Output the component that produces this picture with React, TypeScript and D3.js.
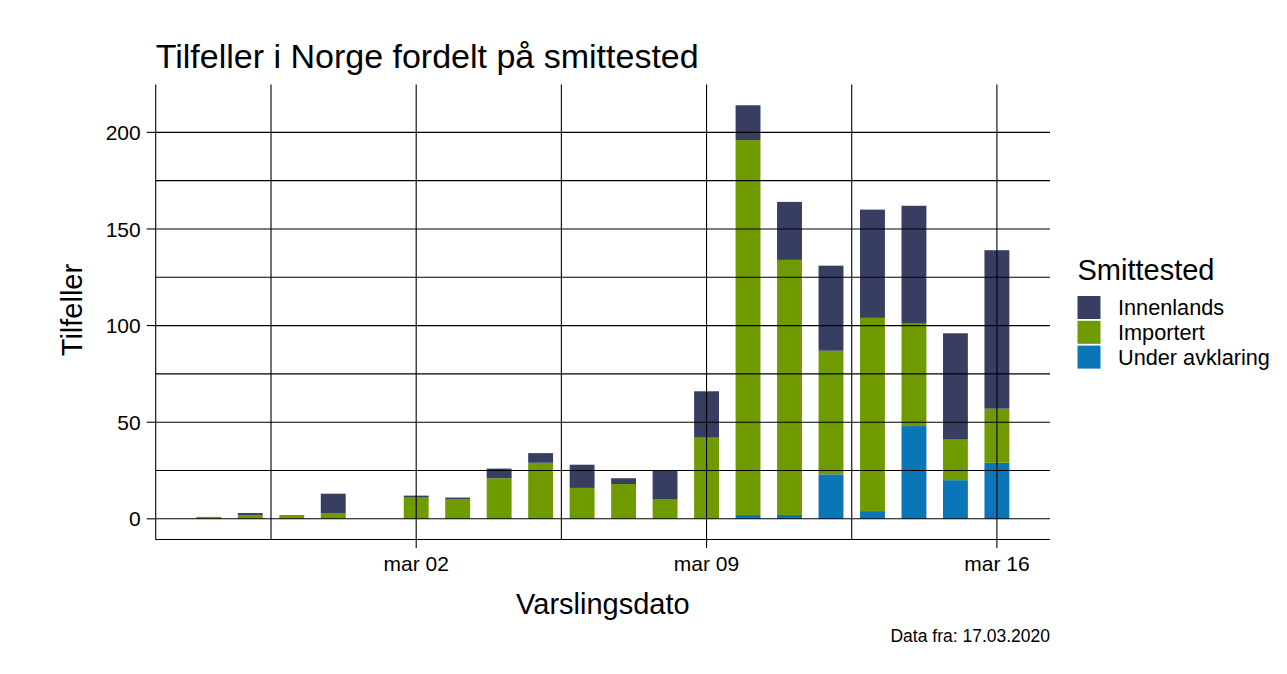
import * as d3 from "d3";

const dates = [
  "2020-02-26", "2020-02-27", "2020-02-28", "2020-02-29", "2020-03-02",
  "2020-03-03", "2020-03-04", "2020-03-05", "2020-03-06", "2020-03-07",
  "2020-03-08", "2020-03-09", "2020-03-10", "2020-03-11", "2020-03-12",
  "2020-03-13", "2020-03-14", "2020-03-15", "2020-03-16",
];
const innenlands = [0, 1, 0, 10, 1, 1, 5, 5, 12, 3, 15, 24, 18, 30, 44, 56, 61, 55, 82];
const importert = [1, 2, 2, 3, 11, 10, 21, 29, 16, 18, 10, 42, 194, 132, 64, 100, 53, 21, 28];
const underAvklaring = [0, 0, 0, 0, 0, 0, 0, 0, 0, 0, 0, 0, 2, 2, 23, 4, 48, 20, 29];

const seriesNames = ["Innenlands", "Importert", "Under avklaring"];
const seriesColors = ["#383d62", "#6f9a00", "#0a76b7"];
const yTicks = [0, 50, 100, 150, 200];
const xTickDates = ["2020-03-02", "2020-03-09", "2020-03-16"];

const W = 1287;
const H = 674;
const FONT = "'Liberation Sans', Arial, sans-serif";
const panel = { left: 155.7, right: 1050, top: 84.6, bottom: 539.5 };
const DAY = 864e5;

const nb = d3.timeFormatLocale({
  dateTime: "%A %e. %B %Y kl. %X",
  date: "%d.%m.%Y",
  time: "%H:%M:%S",
  periods: ["AM", "PM"],
  days: ["søndag", "mandag", "tirsdag", "onsdag", "torsdag", "fredag", "lørdag"],
  shortDays: ["søn", "man", "tir", "ons", "tor", "fre", "lør"],
  months: ["januar", "februar", "mars", "april", "mai", "juni", "juli", "august", "september", "oktober", "november", "desember"],
  shortMonths: ["jan", "feb", "mar", "apr", "mai", "jun", "jul", "aug", "sep", "okt", "nov", "des"],
});
const fmt = nb.format("%b %d");
const parse = d3.utcParse("%Y-%m-%d");

export default function App() {
  const rows = dates.map((d, i) => ({
    date: parse(d) as Date,
    "Under avklaring": underAvklaring[i],
    Importert: importert[i],
    Innenlands: innenlands[i],
  }));

  // stacked bottom-up: Under avklaring, Importert, Innenlands
  const stack = d3
    .stack<any>()
    .keys(["Under avklaring", "Importert", "Innenlands"]);
  const stacked = stack(rows);

  const halfBar = 0.3 * DAY;
  const t0 = +rows[0].date - halfBar;
  const t1 = +rows[rows.length - 1].date + halfBar;
  const padX = (t1 - t0) * 0.05;
  const x = d3
    .scaleUtc()
    .domain([new Date(t0 - padX), new Date(t1 + padX)])
    .range([panel.left, panel.right]);

  const maxTotal = d3.max(rows, (r) => r.Innenlands + r.Importert + r["Under avklaring"]) || 0;
  const y = d3
    .scaleLinear()
    .domain([-maxTotal * 0.05, maxTotal * 1.05])
    .range([panel.bottom, panel.top]);

  const majorX = xTickDates.map((d) => parse(d) as Date);
  const minorX = majorX
    .map((d) => new Date(+d - 3.5 * DAY))
    .concat([new Date(+majorX[majorX.length - 1] + 3.5 * DAY)])
    .filter((d) => x(d) > panel.left && x(d) < panel.right);
  const minorY = yTicks
    .map((v) => v + 25)
    .concat([yTicks[0] - 25])
    .filter((v) => y(v) > panel.top && y(v) < panel.bottom);

  const colorOf = (k: string) => seriesColors[seriesNames.indexOf(k)];

  return (
    <svg
      width={W}
      height={H}
      style={{ position: "fixed", left: 0, top: 0, background: "#fff" }}
      fontFamily={FONT}
    >
      <rect width={W} height={H} fill="#fff" />

      {/* bars */}
      {stacked.map((layer) => (
        <g key={layer.key} fill={colorOf(layer.key)}>
          {layer.map((s, i) =>
            s[1] - s[0] > 0 ? (
              <rect
                key={i}
                x={x(new Date(+rows[i].date - halfBar))}
                width={x(new Date(+rows[i].date + halfBar)) - x(new Date(+rows[i].date - halfBar))}
                y={y(s[1])}
                height={y(s[0]) - y(s[1])}
              />
            ) : null,
          )}
        </g>
      ))}

      {/* grid lines drawn over the bars */}
      <g stroke="#000" strokeWidth={1.1}>
        {yTicks.concat(minorY).map((v) => (
          <line key={"gy" + v} x1={panel.left} x2={panel.right} y1={y(v)} y2={y(v)} />
        ))}
        {majorX.concat(minorX).map((d) => (
          <line key={"gx" + +d} x1={x(d)} x2={x(d)} y1={panel.top} y2={panel.bottom} />
        ))}
        {/* axes */}
        <line x1={panel.left} x2={panel.left} y1={panel.top} y2={panel.bottom} />
        <line x1={panel.left} x2={panel.right} y1={panel.bottom} y2={panel.bottom} />
        {yTicks.map((v) => (
          <line key={"ty" + v} x1={panel.left - 9} x2={panel.left} y1={y(v)} y2={y(v)} />
        ))}
        {majorX.map((d) => (
          <line key={"tx" + +d} x1={x(d)} x2={x(d)} y1={panel.bottom} y2={panel.bottom + 8.5} />
        ))}
      </g>

      {/* tick labels */}
      <g fontSize={21} fill="#000">
        {yTicks.map((v) => (
          <text key={"ly" + v} x={panel.left - 15} y={y(v)} dy="0.36em" textAnchor="end">
            {v}
          </text>
        ))}
        {majorX.map((d) => (
          <text key={"lx" + +d} x={x(d)} y={571} textAnchor="middle">
            {fmt(d)}
          </text>
        ))}
      </g>

      {/* titles */}
      <text x={panel.left} y={68} fontSize={34} fill="#000">
        Tilfeller i Norge fordelt på smittested
      </text>
      <text x={(panel.left + panel.right) / 2} y={614} fontSize={29} textAnchor="middle" fill="#000">
        Varslingsdato
      </text>
      <text
        transform={`translate(82,${(panel.top + panel.bottom) / 2 - 2}) rotate(-90)`}
        fontSize={29}
        textAnchor="middle"
        fill="#000"
      >
        Tilfeller
      </text>
      <text x={panel.right} y={642} fontSize={17.5} textAnchor="end" fill="#000">
        Data fra: 17.03.2020
      </text>

      {/* legend */}
      <g transform="translate(1077.5,0)">
        <text x={0} y={280} fontSize={29} fill="#000">
          Smittested
        </text>
        {seriesNames.map((name, i) => (
          <g key={name} transform={`translate(0,${296 + i * 24.8})`}>
            <rect width={23} height={23} fill={seriesColors[i]} />
            <text x={40.5} y={11.5} dy="0.36em" fontSize={21.7} fill="#000">
              {name}
            </text>
          </g>
        ))}
      </g>
    </svg>
  );
}
